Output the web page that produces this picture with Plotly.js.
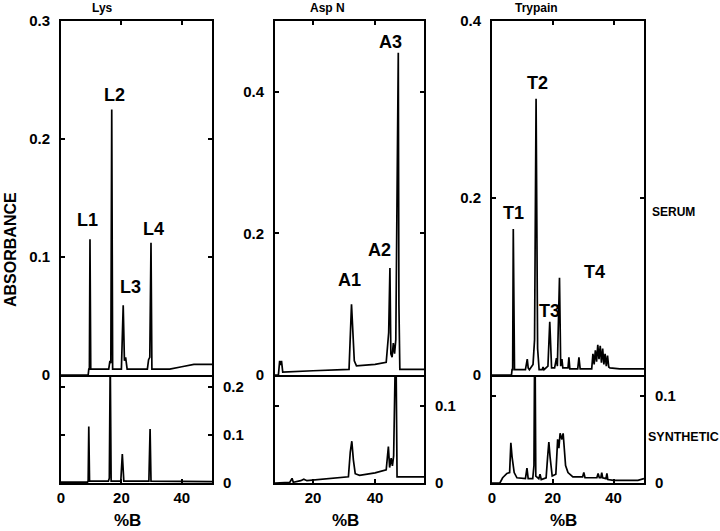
<!DOCTYPE html>
<html>
<head>
<meta charset="utf-8">
<script src="https://cdn.plot.ly/plotly-3.0.1.min.js"></script>
<style>html,body{margin:0;padding:0;background:#fff;}#chart{width:720px;height:531px;}</style>
</head>
<body>
<div id="chart"></div>
<script>
// ---------- DATA ----------
var panelTitles = ["Lys", "Asp N", "Trypain"];
var rowLabels = ["SERUM", "SYNTHETIC"];
var peakLabelsLys = ["L1", "L2", "L3", "L4"];
var peakLabelsAsp = ["A1", "A2", "A3"];
var peakLabelsTry = ["T1", "T2", "T3", "T4"];

// Lys-C digest, serum
var lysSerumX = [0, 9.0, 9.2, 9.4, 9.6, 9.85, 15.8, 16.2, 16.5, 16.8, 17.1, 20.0, 20.6, 21.0, 21.4, 21.9, 28.6, 29.0, 29.4, 29.8, 30.1, 36.0, 40.0, 44.0, 50.0];
var lysSerumY = [0, 0, 0.005, 0.005, 0.115, 0.005, 0.005, 0.012, 0.01, 0.225, 0.005, 0.005, 0.059, 0.012, 0.015, 0.005, 0.005, 0.013, 0.015, 0.112, 0.005, 0.005, 0.007, 0.009, 0.009];
// Lys-C digest, synthetic
var lysSynX = [0, 8.8, 9.0, 9.2, 9.45, 15.7, 16.0, 16.3, 16.6, 19.8, 20.3, 20.8, 29.1, 29.5, 29.8, 40.0, 50.0];
var lysSynY = [0.002, 0.002, 0.005, 0.117, 0.004, 0.004, 0.01, 0.26, 0.004, 0.004, 0.06, 0.004, 0.004, 0.112, 0.004, 0.003, 0.003];

// Asp N digest, serum
var aspSerumX = [7.7, 8.8, 9.2, 9.5, 9.8, 10.2, 20.0, 31.6, 32.4, 32.8, 33.3, 34.0, 40.0, 43.6, 44.4, 44.8, 45.1, 45.5, 45.9, 46.3, 46.7, 47.5, 47.7, 48.0, 55.8];
var aspSerumY = [0, 0, 0.02, 0.014, 0.02, 0.004, 0.006, 0.008, 0.1, 0.06, 0.02, 0.013, 0.015, 0.018, 0.06, 0.151, 0.03, 0.025, 0.045, 0.03, 0.05, 0.455, 0.1, 0.008, 0.008];
// Asp N digest, synthetic
var aspSynX = [7.7, 12.5, 13.2, 13.6, 16.0, 17.0, 18.0, 25.0, 31.4, 32.0, 32.5, 33.0, 33.6, 35.0, 40.0, 43.6, 44.3, 44.7, 45.2, 45.6, 46.0, 46.7, 47.1, 55.8];
var aspSynY = [0, 0.001, 0.006, 0.001, 0.003, 0.005, 0.003, 0.006, 0.008, 0.04, 0.054, 0.03, 0.012, 0.01, 0.013, 0.017, 0.047, 0.02, 0.032, 0.022, 0.035, 0.2, 0.008, 0.008];

// Trypsin digest, serum
var trySerumX = [0, 6.4, 6.6, 6.8, 7.0, 7.4, 11.0, 11.6, 11.9, 12.3, 13.5, 14.0, 14.5, 15.0, 15.5, 16.5, 16.8, 17.1, 18.4, 19.0, 19.6, 20.6, 21.2, 21.5, 22.2, 22.6, 23.0, 23.3, 23.7, 25.0, 25.3, 25.6, 28.2, 28.6, 29.0, 32.8, 33.2, 33.6, 34.0, 34.4, 34.8, 35.2, 35.6, 36.0, 36.4, 36.8, 37.2, 37.6, 38.0, 38.4, 38.8, 42.0, 50.0];
var trySerumY = [0, 0, 0.006, 0.006, 0.165, 0.006, 0.006, 0.018, 0.008, 0.006, 0.012, 0.04, 0.312, 0.03, 0.006, 0.006, 0.009, 0.006, 0.01, 0.06, 0.008, 0.008, 0.019, 0.01, 0.11, 0.01, 0.018, 0.008, 0.008, 0.008, 0.02, 0.007, 0.007, 0.02, 0.007, 0.007, 0.024, 0.012, 0.028, 0.015, 0.034, 0.018, 0.033, 0.014, 0.03, 0.012, 0.024, 0.01, 0.022, 0.009, 0.008, 0.007, 0.007];
// Trypsin digest, synthetic
var trySynX = [0, 2.6, 3.5, 4.9, 5.8, 6.2, 6.6, 7.3, 8.2, 11.0, 11.5, 11.9, 13.4, 13.8, 14.1, 14.4, 15.4, 15.8, 16.2, 17.8, 18.3, 18.7, 19.1, 19.8, 21.0, 21.6, 22.0, 22.4, 23.0, 23.4, 24.2, 25.0, 26.6, 29.8, 30.2, 30.6, 34.5, 34.9, 35.3, 35.8, 36.1, 36.4, 37.5, 37.8, 38.1, 40.0, 48.0, 50.0];
var trySynY = [0, 0, 0.006, 0.011, 0.012, 0.046, 0.03, 0.012, 0.006, 0.005, 0.017, 0.005, 0.005, 0.02, 0.2, 0.008, 0.005, 0.01, 0.004, 0.006, 0.03, 0.047, 0.03, 0.008, 0.01, 0.05, 0.04, 0.057, 0.05, 0.057, 0.02, 0.012, 0.007, 0.007, 0.012, 0.006, 0.006, 0.011, 0.006, 0.006, 0.012, 0.006, 0.005, 0.011, 0.004, 0.003, 0.003, 0.005];

// ---------- LAYOUT ----------
var W = 720, H = 531;
function px(x) { return x / W; }
function py(y) { return 1 - y / H; }
var FONT = "Liberation Sans, Arial, Helvetica, sans-serif";

var cols = [[61, 212], [275, 424], [492, 644]];
var upperRows = [21, 375];
var lowerRows = [377, 483];

var xRanges = [[0, 50], [7.7, 55.8], [0, 50]];
var xTicksTop = [[20, 40], [20, 40], [20, 40]];
var xTicksBottom = [[0, 20, 40], [20, 40], [0, 20, 40]];
var upperYRanges = [[0, 0.3], [0, 0.5], [0, 0.4]];
var upperYTicks = [[0, 0.1, 0.2, 0.3], [0, 0.2, 0.4], [0, 0.2, 0.4]];
var lowerYRanges = [[0, 0.22], [0, 0.137], [0, 0.1216]];
var lowerYTicks = [[0, 0.1, 0.2], [0, 0.1], [0, 0.1]];

var seriesX = [[lysSerumX, lysSynX], [aspSerumX, aspSynX], [trySerumX, trySynX]];
var seriesY = [[lysSerumY, lysSynY], [aspSerumY, aspSynY], [trySerumY, trySynY]];

var tickFont = {family: FONT, size: 15, color: "#000", weight: "bold"};
var layout = {
  width: W, height: H,
  margin: {l: 0, r: 0, t: 0, b: 0},
  paper_bgcolor: "#fff", plot_bgcolor: "#fff",
  showlegend: false,
  font: {family: FONT, color: "#000"},
  annotations: []
};
var data = [];

for (var p = 0; p < 3; p++) {
  var iu = 2 * p + 1, il = 2 * p + 2;
  var xu = "xaxis" + (iu === 1 ? "" : iu), yu = "yaxis" + (iu === 1 ? "" : iu);
  var xl = "xaxis" + il, yl = "yaxis" + il;
  var dom = [px(cols[p][0]), px(cols[p][1])];
  layout[xu] = {
    domain: dom, anchor: "y" + (iu === 1 ? "" : iu), range: xRanges[p], side: "top",
    showline: true, linewidth: 2, linecolor: "#000", mirror: true,
    showgrid: false, zeroline: false, ticks: "inside", ticklen: 4, tickwidth: 2, tickcolor: "#000",
    tickmode: "array", tickvals: xTicksTop[p], showticklabels: false, fixedrange: true
  };
  layout[yu] = {
    domain: [py(upperRows[1]), py(upperRows[0])], anchor: "x" + (iu === 1 ? "" : iu),
    range: upperYRanges[p], side: "left",
    showline: true, linewidth: 2, linecolor: "#000", mirror: "ticks",
    showgrid: false, zeroline: false, ticks: "inside", ticklen: 4, tickwidth: 2, tickcolor: "#000",
    tickmode: "array", tickvals: upperYTicks[p], ticktext: upperYTicks[p].map(String),
    tickfont: tickFont, ticklabelstandoff: 6, fixedrange: true
  };
  layout[xl] = {
    domain: dom, anchor: "y" + il, range: xRanges[p], side: "bottom",
    showline: true, linewidth: 2, linecolor: "#000", mirror: true,
    showgrid: false, zeroline: false, ticks: "inside", ticklen: 4, tickwidth: 2, tickcolor: "#000",
    tickmode: "array", tickvals: xTicksBottom[p], ticktext: xTicksBottom[p].map(String),
    tickfont: tickFont, ticklabelstandoff: 0, fixedrange: true
  };
  layout[yl] = {
    domain: [py(lowerRows[1]), py(lowerRows[0])], anchor: "x" + il,
    range: lowerYRanges[p], side: "right",
    showline: true, linewidth: 2, linecolor: "#000", mirror: "ticks",
    showgrid: false, zeroline: false, ticks: "inside", ticklen: 4, tickwidth: 2, tickcolor: "#000",
    tickmode: "array", tickvals: lowerYTicks[p], ticktext: lowerYTicks[p].map(String),
    tickfont: tickFont, ticklabelstandoff: 6, fixedrange: true
  };
  data.push({x: seriesX[p][0], y: seriesY[p][0], xaxis: "x" + (iu === 1 ? "" : iu), yaxis: "y" + (iu === 1 ? "" : iu),
    type: "scatter", mode: "lines", line: {color: "#000", width: 1.7}, hoverinfo: "skip"});
  data.push({x: seriesX[p][1], y: seriesY[p][1], xaxis: "x" + il, yaxis: "y" + il,
    type: "scatter", mode: "lines", line: {color: "#000", width: 1.7}, hoverinfo: "skip"});
}

function ann(text, x, y, size, extra) {
  var a = {text: text, x: px(x), y: py(y), xref: "paper", yref: "paper", showarrow: false,
    xanchor: "center", yanchor: "middle", font: {family: FONT, size: size, color: "#000", weight: "bold"}};
  for (var k in extra) a[k] = extra[k];
  layout.annotations.push(a);
}

// panel titles
ann(panelTitles[0], 102, 8, 12);
ann(panelTitles[1], 327, 8, 12);
ann(panelTitles[2], 536, 8, 12);
// axis titles
ann("ABSORBANCE", 10, 250, 16, {textangle: -90});
ann("%B", 127, 520, 17);
ann("%B", 345, 520, 17);
ann("%B", 563, 520, 17);
// row labels
ann(rowLabels[0], 650, 212, 12, {xanchor: "left"});
ann(rowLabels[1], 646, 437, 12.5, {xanchor: "left"});
// peak labels
var lysPos = [[87, 220], [114, 95], [130, 287], [153, 229]];
var aspPos = [[349, 280], [379, 250], [390, 42]];
var tryPos = [[513, 213], [537, 83], [549, 311], [594, 272]];
peakLabelsLys.forEach(function (t, i) { ann(t, lysPos[i][0], lysPos[i][1], 18); });
peakLabelsAsp.forEach(function (t, i) { ann(t, aspPos[i][0], aspPos[i][1], 18); });
peakLabelsTry.forEach(function (t, i) { ann(t, tryPos[i][0], tryPos[i][1], 18); });

Plotly.newPlot("chart", data, layout, {displayModeBar: false, staticPlot: true});
</script>
</body>
</html>
